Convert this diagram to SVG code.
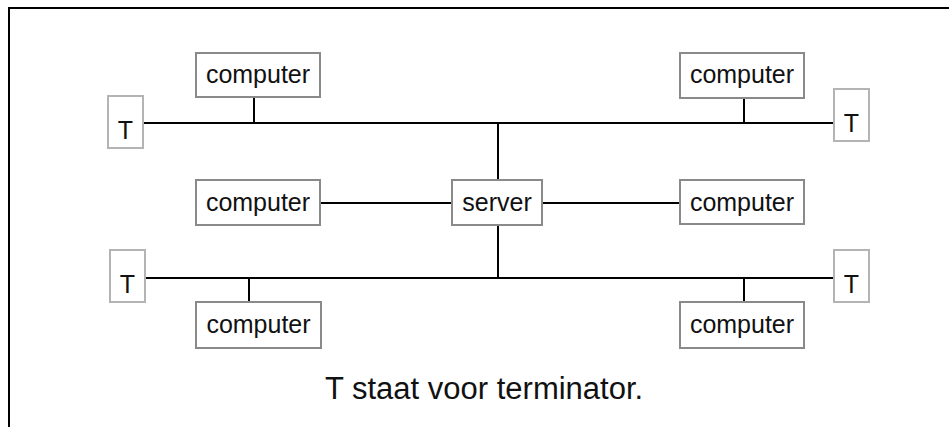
<svg xmlns="http://www.w3.org/2000/svg" width="949" height="427" viewBox="0 0 949 427">
  <style>
    .frame { fill: none; stroke: #000; stroke-width: 2; }
    .box { fill: #fff; stroke: #8a8a8a; stroke-width: 2; }
    .term { fill: #fff; stroke: #b4b4b4; stroke-width: 2; }
    .wire { fill: none; stroke: #000; stroke-width: 2; }
    .label { font-family: "Liberation Sans", Arial, sans-serif; font-size: 25px; fill: #111; text-anchor: middle; }
    .caption { font-family: "Liberation Sans", Arial, sans-serif; font-size: 31px; fill: #111; }
  </style>

  <!-- outer frame: top and left edges only -->
  <path class="frame" d="M9 427 V8 H949"/>

  <!-- cabling: two bus lines, the server trunk and the drops -->
  <g id="connectors">
    <line class="wire" x1="143" y1="123" x2="834" y2="123"/>
    <line class="wire" x1="145" y1="278" x2="834" y2="278"/>
    <line class="wire" x1="498" y1="123" x2="498" y2="180"/>
    <line class="wire" x1="498" y1="225" x2="498" y2="278"/>
    <line class="wire" x1="320" y1="203" x2="452" y2="203"/>
    <line class="wire" x1="542" y1="203" x2="680" y2="203"/>
    <line class="wire" x1="254" y1="97" x2="254" y2="123"/>
    <line class="wire" x1="744" y1="98" x2="744" y2="123"/>
    <line class="wire" x1="249" y1="278" x2="249" y2="302"/>
    <line class="wire" x1="744" y1="278" x2="744" y2="302"/>
  </g>

  <g id="term-top-left">
    <rect class="term" x="108" y="96" width="35" height="52"/>
    <text class="label" x="125.5" y="139">T</text>
  </g>
  <g id="term-top-right">
    <rect class="term" x="834" y="89" width="35" height="52"/>
    <text class="label" x="851.5" y="132">T</text>
  </g>
  <g id="term-bottom-left">
    <rect class="term" x="110" y="250" width="35" height="52"/>
    <text class="label" x="127.5" y="293">T</text>
  </g>
  <g id="term-bottom-right">
    <rect class="term" x="834" y="250" width="35" height="52"/>
    <text class="label" x="851.5" y="293">T</text>
  </g>

  <g id="computer-top-left">
    <rect class="box" x="196" y="53" width="124" height="44"/>
    <text class="label" x="258" y="83">computer</text>
  </g>
  <g id="computer-top-right">
    <rect class="box" x="680" y="53" width="124" height="45"/>
    <text class="label" x="742" y="83">computer</text>
  </g>
  <g id="computer-mid-left">
    <rect class="box" x="196" y="180" width="124" height="45"/>
    <text class="label" x="258" y="211">computer</text>
  </g>
  <g id="server">
    <rect class="box" x="452" y="180" width="90" height="45"/>
    <text class="label" x="497" y="211">server</text>
  </g>
  <g id="computer-mid-right">
    <rect class="box" x="680" y="180" width="124" height="44"/>
    <text class="label" x="742" y="211">computer</text>
  </g>
  <g id="computer-bottom-left">
    <rect class="box" x="196" y="302" width="125" height="46"/>
    <text class="label" x="258.5" y="333">computer</text>
  </g>
  <g id="computer-bottom-right">
    <rect class="box" x="680" y="302" width="124" height="46"/>
    <text class="label" x="742" y="333">computer</text>
  </g>

  <text class="caption" x="325" y="399">T staat voor terminator.</text>
</svg>
